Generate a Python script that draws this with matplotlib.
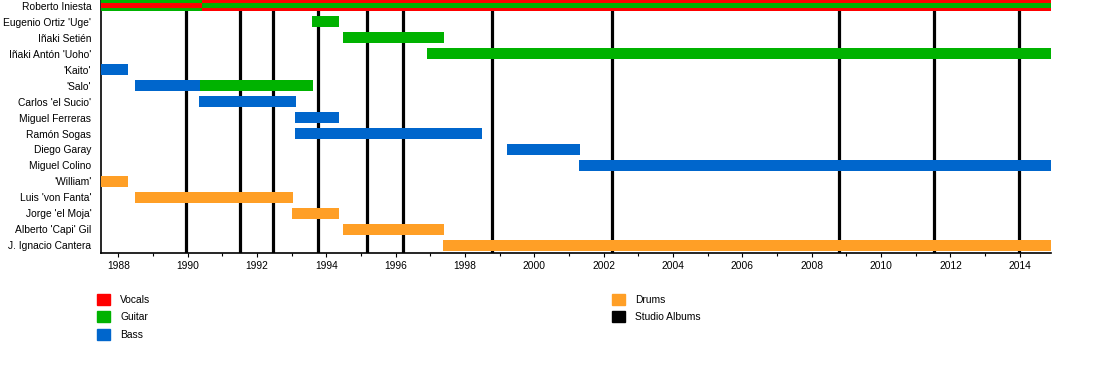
import matplotlib
matplotlib.use("Agg")
import matplotlib.pyplot as plt
import matplotlib.patches as mpatches

plt.rcParams['font.family'] = ['Liberation Sans', 'DejaVu Sans']

# members, top to bottom
members = ["Roberto Iniesta", "Eugenio Ortiz 'Uge'", "Iñaki Setién", "Iñaki Antón 'Uoho'",
           "'Kaito'", "'Salo'", "Carlos 'el Sucio'", "Miguel Ferreras", "Ramón Sogas",
           "Diego Garay", "Miguel Colino", "'William'", "Luis 'von Fanta'",
           "Jorge 'el Moja'", "Alberto 'Capi' Gil", "J. Ignacio Cantera"]

# (member, start, end, role, secondary role)
periods = [
    ("Roberto Iniesta", 1987.5, 1990.42, "Guitar", "Vocals"),
    ("Roberto Iniesta", 1990.42, 2014.9, "Vocals", "Guitar"),
    ("Eugenio Ortiz 'Uge'", 1993.59, 1994.37, "Guitar", None),
    ("Iñaki Setién", 1994.48, 1997.39, "Guitar", None),
    ("Iñaki Antón 'Uoho'", 1996.9, 2014.9, "Guitar", None),
    ("'Kaito'", 1987.5, 1988.29, "Bass", None),
    ("'Salo'", 1988.49, 1990.36, "Bass", None),
    ("'Salo'", 1990.36, 1993.62, "Guitar", None),
    ("Carlos 'el Sucio'", 1990.33, 1993.13, "Bass", None),
    ("Miguel Ferreras", 1993.1, 1994.37, "Bass", None),
    ("Ramón Sogas", 1993.1, 1998.49, "Bass", None),
    ("Diego Garay", 1999.21, 2001.31, "Bass", None),
    ("Miguel Colino", 2001.28, 2014.9, "Bass", None),
    ("'William'", 1987.5, 1988.29, "Drums", None),
    ("Luis 'von Fanta'", 1988.49, 1993.04, "Drums", None),
    ("Jorge 'el Moja'", 1993.01, 1994.37, "Drums", None),
    ("Alberto 'Capi' Gil", 1994.48, 1997.39, "Drums", None),
    ("J. Ignacio Cantera", 1997.37, 2014.9, "Drums", None),
]

albums = [1989.96, 1991.52, 1992.47, 1993.76, 1995.18, 1996.21,
          1998.78, 2002.24, 2008.78, 2011.52, 2013.97]

roles = ["Vocals", "Guitar", "Bass", "Drums", "Studio Albums"]
colors = {"Vocals": "#ff0000", "Guitar": "#00b200", "Bass": "#0066cc",
          "Drums": "#ff9f26", "Studio Albums": "#000000"}

x_start, x_end = 1987.5, 2014.9

fig = plt.figure(figsize=(11, 3.7), dpi=100)
ax = fig.add_axes([101 / 1100, 1 - 253 / 370, 950 / 1100, 253 / 370])

row = {m: i for i, m in enumerate(members)}
h = 11 / 16.0
for name, s, e, role, sub in periods:
    ax.barh(row[name], e - s, left=s, height=h, color=colors[role], zorder=3, linewidth=0)
    if sub:
        ax.barh(row[name], e - s, left=s, height=h * 0.4, color=colors[sub], zorder=4, linewidth=0)

for a in albums:
    ax.axvline(a, color="black", linewidth=2.3, zorder=2)

ax.set_xlim(x_start, x_end)
ax.set_ylim(253 / 16 - 5.5 / 16, -5.5 / 16)
ax.set_yticks(range(len(members)))
ax.set_yticklabels(members, fontsize=7.4)
ax.tick_params(axis='y', length=0, pad=7)
ax.set_xticks(range(1988, 2015, 2))
ax.set_xticks(range(1988, 2015), minor=True)
ax.tick_params(axis='x', labelsize=7.4, length=3, width=0.8, pad=2.5)
ax.tick_params(axis='x', which='minor', length=2, width=0.8)
for side in ["top", "right"]:
    ax.spines[side].set_visible(False)
ax.spines["left"].set_linewidth(1.2)
ax.spines["bottom"].set_linewidth(1.2)

handles = [mpatches.Patch(color=colors[r], label=r) for r in roles]
leg_kw = dict(frameon=False, fontsize=7.4, handlelength=1.3, handleheight=1.3,
              labelspacing=0.62, handletextpad=0.95, borderpad=0, borderaxespad=0)
fig.legend(handles=handles[:3], loc="upper left", bbox_to_anchor=(97 / 1100, 1 - 293.5 / 370), **leg_kw)
fig.legend(handles=handles[3:], loc="upper left", bbox_to_anchor=(612 / 1100, 1 - 293.5 / 370), **leg_kw)

fig.savefig("out.png", dpi=100)
